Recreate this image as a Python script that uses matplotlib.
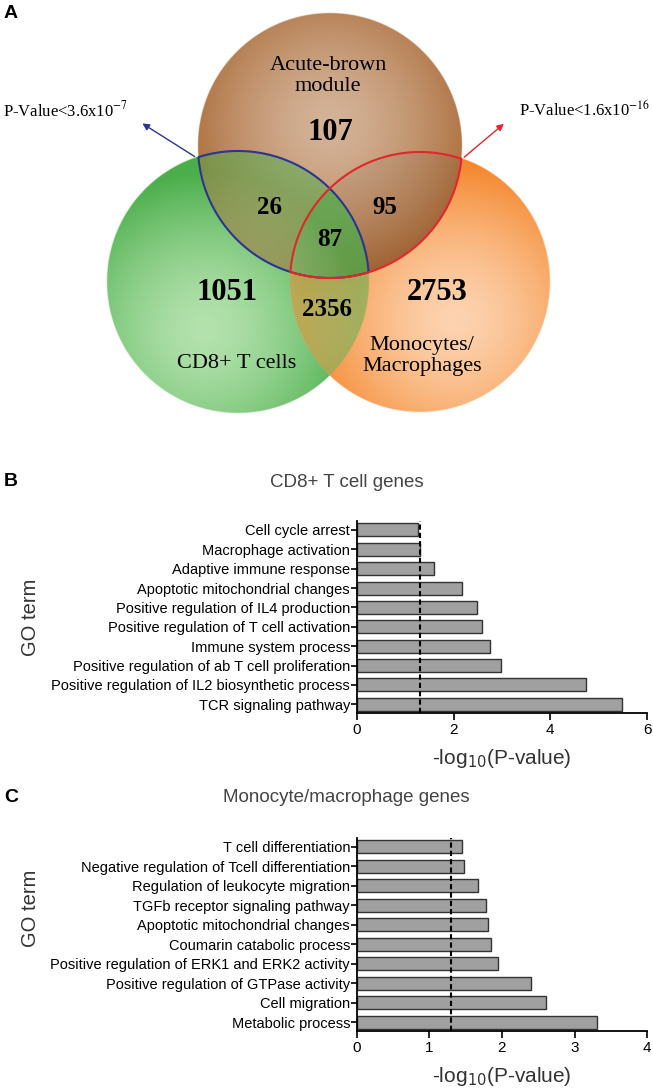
import matplotlib

matplotlib.use("Agg")
import matplotlib.pyplot as plt
import numpy as np
from matplotlib.colors import to_rgb

W, H = 653, 1090

# --- panel A: Venn counts -------------------------------------------------
venn_regions = ["brown_only", "brown_cd8", "brown_mono", "all_three",
                "cd8_only", "cd8_mono", "mono_only"]
venn_counts = [107, 26, 95, 87, 1051, 2356, 2753]
venn_big = [True, False, False, False, True, False, True]
set_labels = ["Acute-brown\nmodule", "CD8+ T cells", "Monocytes/\nMacrophages"]
pval_labels = ["P-Value<3.6x10$^{-7}$", "P-Value<1.6x10$^{-16}$"]

# --- panel B: CD8+ T cell GO terms ----------------------------------------
cd8_terms = [
    "Cell cycle arrest",
    "Macrophage activation",
    "Adaptive immune response",
    "Apoptotic mitochondrial changes",
    "Positive regulation of IL4 production",
    "Positive regulation of T cell activation",
    "Immune system process",
    "Positive regulation of ab T cell proliferation",
    "Positive regulation of IL2 biosynthetic process",
    "TCR signaling pathway",
]
cd8_logp = [1.27, 1.30, 1.60, 2.18, 2.48, 2.58, 2.76, 2.97, 4.73, 5.48]

# --- panel C: monocyte/macrophage GO terms --------------------------------
mono_terms = [
    "T cell differentiation",
    "Negative regulation of Tcell differentiation",
    "Regulation of leukocyte migration",
    "TGFb receptor signaling pathway",
    "Apoptotic mitochondrial changes",
    "Coumarin catabolic process",
    "Positive regulation of ERK1 and ERK2 activity",
    "Positive regulation of GTPase activity",
    "Cell migration",
    "Metabolic process",
]
mono_logp = [1.45, 1.48, 1.67, 1.78, 1.80, 1.85, 1.95, 2.40, 2.60, 3.31]

threshold = -np.log10(0.05)


def px(x, y):
    return x / W, 1 - y / H


fig = plt.figure(figsize=(W / 100, H / 100), dpi=100)

# ---------------- Venn ----------------
VH = 430
axv = fig.add_axes([0, 1 - VH / H, 1, VH / H])
axv.set_xlim(0, W)
axv.set_ylim(VH, 0)
axv.axis("off")

# circle geometry in pixel space: cx, cy, r, light, dark, highlight
circ = {
    "brown": (330, 146, 132, "#d4b398", "#a6642f", (330, 125)),
    "green": (238, 282, 131, "#b4e2ae", "#4aae4a", (205, 330)),
    "orange": (420, 282, 130, "#fdd3b0", "#f4872c", (455, 320)),
}
step = 0.5
xs = np.arange(0, W, step) + step / 2
ys = np.arange(0, VH, step) + step / 2
X, Y = np.meshgrid(xs, ys)


def layer(name):
    cx, cy, r, light, dark, (hx, hy) = circ[name]
    d = np.hypot(X - cx, Y - cy)
    m = np.clip((r - d) / step + 0.5, 0, 1)
    t = np.clip(np.hypot(X - hx, Y - hy) / (r * 1.2), 0, 1) ** 1.5
    c0, c1 = np.array(to_rgb(light)), np.array(to_rgb(dark))
    col = c0 + (c1 - c0) * t[..., None]
    return m, col, r - d


mO, cO, fO = layer("orange")
mB, cB, fB = layer("brown")
mG, cG, fG = layer("green")

canvas = np.ones(X.shape + (3,))
canvas = canvas * (1 - mO[..., None]) + cO * mO[..., None]
cB = cB * (1 - 0.05 * mO[..., None])
canvas = canvas * (1 - mB[..., None]) + cB * mB[..., None]
a = mG * (1 - 0.5 * np.maximum(mB, mO) + 0.22 * mB * mO)
canvas = canvas * (1 - a[..., None]) + cG * a[..., None]
axv.imshow(canvas, extent=[0, W, VH, 0], origin="upper", interpolation="bilinear")

# lens outlines
axv.contour(X, Y, np.minimum(fG, fB), levels=[0], colors="#2b3590", linewidths=1.5)
axv.contour(X, Y, np.minimum(fB, fO), levels=[0], colors="#e3262a", linewidths=1.5)

axv.annotate("", xy=(140, 122), xytext=(197, 158),
             arrowprops=dict(arrowstyle="-|>", color="#2b3590", lw=1.0,
                             mutation_scale=10))
axv.annotate("", xy=(506, 122), xytext=(462, 159),
             arrowprops=dict(arrowstyle="-|>", color="#e3262a", lw=1.0,
                             mutation_scale=10))

serif = "Liberation Serif"
count_xy = [(330, 133), (270, 208), (385, 208), (330, 240),
            (227, 292), (327, 310), (437, 292)]
for (x, y), n, big in zip(count_xy, venn_counts, venn_big):
    axv.text(x, y, str(n), ha="center", va="center", family=serif,
             weight="bold", fontsize=22 if big else 18)

label_xy = [(328, 76), (237, 363), (422, 356)]
for (x, y), s in zip(label_xy, set_labels):
    axv.text(x, y, s, ha="center", va="center", family=serif, fontsize=16,
             linespacing=1.2)

axv.text(3, 110, pval_labels[0], ha="left", va="center", family=serif,
         fontsize=12, math_fontfamily="stix")
axv.text(650, 110, pval_labels[1], ha="right", va="center", family=serif,
         fontsize=12, math_fontfamily="stix")

sans = "Liberation Sans"
fig.text(*px(4, 14), "A", family=sans, weight="bold", fontsize=14, va="center")


# ---------------- bar panels ----------------
def bar_panel(top, bottom, terms, vals, xmax, xstep):
    left, right = 357, 647
    ax = fig.add_axes([left / W, 1 - bottom / H, (right - left) / W, (bottom - top) / H])
    pos = np.arange(len(terms))[::-1]
    ax.barh(pos, vals, height=0.67, color="#a0a0a0", edgecolor="#333333", linewidth=1.0)
    ax.axvline(threshold, color="black", ls=(0, (2.5, 1.5)), lw=1.5)
    ax.set_yticks(pos)
    ax.set_yticklabels(terms, fontsize=10.5, family=sans)
    ax.set_xlim(0, xmax)
    ax.set_xticks(np.arange(0, xmax + 1, xstep))
    ax.set_ylim(-0.45, len(terms) - 0.54)
    for s in ("top", "right"):
        ax.spines[s].set_visible(False)
    for s in ("left", "bottom"):
        ax.spines[s].set_linewidth(1.3)
    ax.tick_params(axis="y", length=4, width=1.2, pad=1)
    ax.tick_params(axis="x", length=5, width=1.2, pad=2, labelsize=11)
    for lab in ax.get_xticklabels():
        lab.set_family(sans)
    return ax


bar_panel(521, 713, cd8_terms, cd8_logp, 6, 2)
bar_panel(838, 1031, mono_terms, mono_logp, 4, 1)

fig.text(*px(4, 481), "B", family=sans, weight="bold", fontsize=14, va="center")
fig.text(*px(4, 798), "C", family=sans, weight="bold", fontsize=14, va="center")
fig.text(*px(347, 483), "CD8+ T cell genes", family=sans, fontsize=13.5,
         color="#444444", ha="center", va="center")
fig.text(*px(346, 798), "Monocyte/macrophage genes", family=sans, fontsize=13.5,
         color="#444444", ha="center", va="center")
for yc in (617, 908):
    fig.text(*px(31, yc), "GO term", family=sans, fontsize=14.5, color="#333333",
             rotation=90, ha="center", va="center")
for yc in (758, 1077):
    fig.text(*px(502, yc), "-log$_{10}$(P-value)", family=sans, fontsize=15,
             color="#333333", ha="center", va="center", math_fontfamily="dejavusans")

fig.savefig("out.png", dpi=100)
